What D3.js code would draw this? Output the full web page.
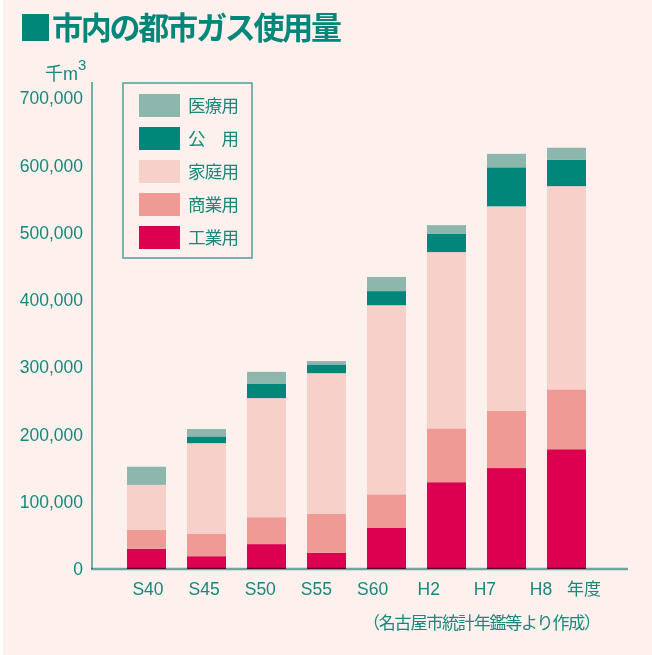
<!DOCTYPE html>
<html>
<head>
<meta charset="utf-8">
<script src="https://cdn.jsdelivr.net/npm/d3@7"></script>
<style>
  body { margin: 0; background: #fdf0ed; }
  svg { display: block; }
  text { font-family: "Liberation Sans", "Noto Sans CJK JP", sans-serif; fill: #16897b; }
  .jp { font-family: "Noto Sans CJK JP", sans-serif; }
</style>
</head>
<body>
<div id="chart"></div>
<script>
// Data (thousand m3)
const years = ['S40', 'S45', 'S50', 'S55', 'S60', 'H2', 'H7', 'H8'];
const industrial = [30000, 19000, 37000, 24000, 61000, 129000, 150000, 178000];
const commercial = [28000, 33000, 40000, 58000, 50000, 80000, 85000, 89000];
const household  = [67000, 135000, 177000, 209000, 281000, 262000, 304000, 302000];
const publicUse  = [0, 10000, 21000, 13000, 21000, 27000, 58000, 39000];
const medical    = [27000, 11000, 18000, 5000, 21000, 13000, 20000, 18000];
const yTicks = [0, 100000, 200000, 300000, 400000, 500000, 600000, 700000];

const seriesKeys = ['industrial', 'commercial', 'household', 'publicUse', 'medical'];
const seriesColors = {
    industrial: '#dc0050',
    commercial: '#ef9a94',
    household: '#f8d0ca',
    publicUse: '#00877a',
    medical: '#8db6ac'
};
// legend top to bottom
const legendItems = [
    {key: 'medical', label: '医療用'},
    {key: 'publicUse', label: '公\u3000用'},
    {key: 'household', label: '家庭用'},
    {key: 'commercial', label: '商業用'},
    {key: 'industrial', label: '工業用'}
];

const width = 652, height = 655;

const svg = d3.select('#chart').append('svg')
    .attr('width', width)
    .attr('height', height);

svg.append('rect').attr('width', width).attr('height', height).attr('fill', '#fdf0ed');
// scanner edge on the left
svg.append('rect').attr('x', 0).attr('y', 0).attr('width', 3).attr('height', height).attr('fill', '#ffffff');

// Title
svg.append('rect')
    .attr('x', 22).attr('y', 14)
    .attr('width', 27).attr('height', 27)
    .attr('fill', '#00877a');
svg.append('text')
    .attr('class', 'jp')
    .attr('x', 52).attr('y', 39)
    .attr('font-size', 31)
    .attr('font-weight', 'bold')
    .attr('textLength', 290)
    .style('fill', '#00877a')
    .text('市内の都市ガス使用量');

// Table for stacking
const table = years.map((y, i) => ({
    year: y,
    industrial: industrial[i],
    commercial: commercial[i],
    household: household[i],
    publicUse: publicUse[i],
    medical: medical[i]
}));
const stacked = d3.stack().keys(seriesKeys)(table);

// Scales
const yScale = d3.scaleLinear().domain([0, 700000]).range([569, 98]);
const xScale = d3.scaleBand()
    .domain(years)
    .range([127, 586])
    .paddingInner(0.35)
    .paddingOuter(0);
// the printed labels sit a little left of the bars
const labelScale = d3.scalePoint().domain(years).range([148, 541]);

// Bars
svg.append('g')
    .selectAll('g')
    .data(stacked)
    .join('g')
    .attr('fill', d => seriesColors[d.key])
    .selectAll('rect')
    .data(d => d)
    .join('rect')
    .attr('x', d => xScale(d.data.year))
    .attr('y', d => yScale(d[1]))
    .attr('width', xScale.bandwidth())
    .attr('height', d => yScale(d[0]) - yScale(d[1]));

// Axes lines
const axisColor = '#6fb0a8';
svg.append('line')
    .attr('x1', 92).attr('x2', 92)
    .attr('y1', 82).attr('y2', yScale(0))
    .attr('stroke', axisColor).attr('stroke-width', 2);
svg.append('line')
    .attr('x1', 91).attr('x2', 628)
    .attr('y1', yScale(0)).attr('y2', yScale(0))
    .attr('stroke', axisColor).attr('stroke-width', 2.5)
    .style('mix-blend-mode', 'multiply');

// Y tick labels
svg.append('g')
    .selectAll('text')
    .data(yTicks)
    .join('text')
    .attr('x', 83)
    .attr('y', d => yScale(d))
    .attr('dy', '0.36em')
    .attr('text-anchor', 'end')
    .attr('font-size', 17.5)
    .text(d => d3.format(',')(d));

// Unit
const unit = svg.append('text').attr('x', 45).attr('y', 80).attr('font-size', 18);
unit.append('tspan').attr('class', 'jp').text('千');
unit.append('tspan').text('m');
unit.append('tspan').attr('font-size', 15).attr('dy', -10).text('3');

// X labels
svg.append('g')
    .selectAll('text')
    .data(years)
    .join('text')
    .attr('x', d => labelScale(d))
    .attr('y', 595)
    .attr('text-anchor', 'middle')
    .attr('font-size', 17.5)
    .text(d => d);
svg.append('text')
    .attr('class', 'jp')
    .attr('x', 584).attr('y', 595)
    .attr('text-anchor', 'middle')
    .attr('font-size', 17)
    .text('年度');

// Source
svg.append('text')
    .attr('class', 'jp')
    .attr('x', 601).attr('y', 629)
    .attr('text-anchor', 'end')
    .attr('font-size', 17)
    .attr('textLength', 238)
    .text('（名古屋市統計年鑑等より作成）');

// Legend
const legend = svg.append('g');
legend.append('rect')
    .attr('x', 123).attr('y', 83)
    .attr('width', 129).attr('height', 175)
    .attr('fill', 'none')
    .attr('stroke', '#4f9f95')
    .attr('stroke-width', 1.5);
const rows = legend.selectAll('g')
    .data(legendItems)
    .join('g')
    .attr('transform', (d, i) => `translate(139,${94 + i * 33})`);
rows.append('rect')
    .attr('width', 41).attr('height', 23)
    .attr('fill', d => seriesColors[d.key]);
rows.append('text')
    .attr('class', 'jp')
    .attr('x', 49).attr('y', 12)
    .attr('dy', '0.36em')
    .attr('font-size', 17.5)
    .attr('textLength', 51)
    .text(d => d.label);
</script>
</body>
</html>
